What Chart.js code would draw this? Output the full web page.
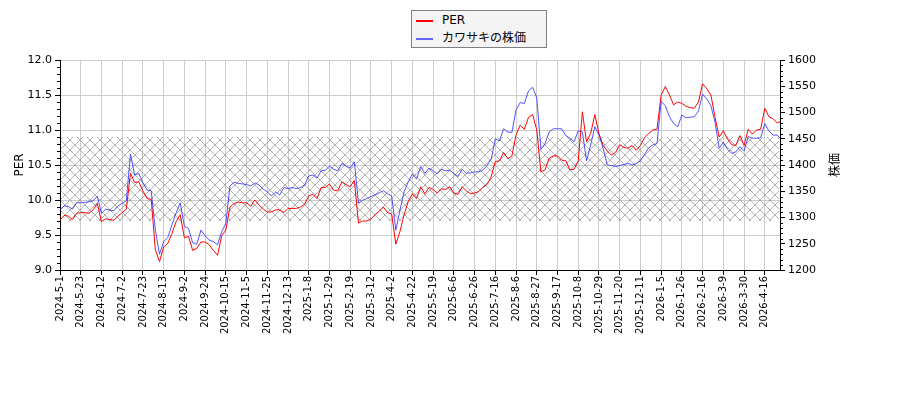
<!DOCTYPE html>
<html>
<head>
<meta charset="utf-8">
<script src="https://cdn.jsdelivr.net/npm/chart.js@4"></script>
<style>
  body { margin: 0; background: #fff; }
  #wrap { position: relative; width: 900px; height: 400px; }
  #legend {
    position: absolute; left: 411px; top: 10px; width: 136px; height: 38px;
    box-sizing: border-box; border: 1px solid #808080; background: #f4f4f4;
    font: 12px 'DejaVu Sans', 'Noto Sans CJK JP', sans-serif; color: #000;
    padding: 0 0 0 4px;
  }
  #legend .row { height: 18px; line-height: 18px; white-space: nowrap; }
  #legend .sw { display: inline-block; width: 17px; height: 2px; vertical-align: middle; margin-right: 9px; }
</style>
</head>
<body>
<div id="wrap">
  <canvas id="chart" width="900" height="400"></canvas>
  <div id="legend">
    <div class="row"><span class="sw" style="background:#ff0000"></span>PER</div>
    <div class="row"><span class="sw" style="background:#6464ff"></span>カワサキの株価</div>
  </div>
</div>
<script>
// one sample every 3 trading days, last sample is the last trading day
const STEP = 3;
const LAST_DAY = 521;
const TICK_EVERY = 15;

const tickLabels = [
  "2024-5-1", "2024-5-23", "2024-6-12", "2024-7-2", "2024-7-23", "2024-8-13", "2024-9-2",
  "2024-9-24", "2024-10-15", "2024-11-5", "2024-11-25", "2024-12-13", "2025-1-8", "2025-1-29",
  "2025-2-19", "2025-3-12", "2025-4-2", "2025-4-22", "2025-5-19", "2025-6-6", "2025-6-26",
  "2025-7-16", "2025-8-6", "2025-8-27", "2025-9-17", "2025-10-8", "2025-10-29", "2025-11-20",
  "2025-12-11", "2026-1-5", "2026-1-26", "2026-2-16", "2026-3-9", "2026-3-30", "2026-4-16"
];

const per = [
  9.71, 9.78, 9.77, 9.72, 9.81, 9.82, 9.82, 9.81, 9.86, 9.95,
  9.69, 9.73, 9.72, 9.71, 9.77, 9.82, 9.87, 10.38, 10.25, 10.26,
  10.13, 10.02, 10.01, 9.29, 9.12, 9.33, 9.38, 9.52, 9.69, 9.79,
  9.46, 9.48, 9.28, 9.31, 9.40, 9.40, 9.36, 9.28, 9.21, 9.49,
  9.57, 9.90, 9.95, 9.97, 9.96, 9.96, 9.91, 10.00, 9.93, 9.87,
  9.83, 9.83, 9.86, 9.86, 9.82, 9.88, 9.88, 9.88, 9.90, 9.94,
  10.06, 10.08, 10.02, 10.18, 10.18, 10.23, 10.14, 10.13, 10.26, 10.22,
  10.19, 10.28, 9.67, 9.70, 9.70, 9.73, 9.79, 9.84, 9.90, 9.82,
  9.80, 9.37, 9.55, 9.79, 9.98, 10.09, 10.02, 10.19, 10.09, 10.18,
  10.15, 10.10, 10.16, 10.15, 10.19, 10.10, 10.08, 10.19, 10.13, 10.09,
  10.10, 10.12, 10.18, 10.22, 10.33, 10.55, 10.56, 10.68, 10.59, 10.63,
  10.93, 11.07, 11.01, 11.18, 11.22, 11.00, 10.40, 10.43, 10.60, 10.63,
  10.63, 10.57, 10.56, 10.43, 10.44, 10.56, 11.26, 10.83, 10.95, 11.22,
  10.95, 10.78, 10.70, 10.64, 10.68, 10.79, 10.75, 10.74, 10.78, 10.71,
  10.78, 10.89, 10.95, 11.00, 11.01, 11.50, 11.62, 11.50, 11.36, 11.40,
  11.38, 11.34, 11.32, 11.31, 11.40, 11.66, 11.59, 11.50, 11.18, 10.90,
  10.99, 10.87, 10.79, 10.78, 10.92, 10.78, 11.01, 10.94, 11.00, 11.01,
  11.31, 11.19, 11.16, 11.10, 11.12
];

const price = [
  1315, 1322, 1321, 1316, 1328, 1328, 1329, 1330, 1332, 1341,
  1308, 1316, 1314, 1313, 1322, 1327, 1332, 1421, 1381, 1384,
  1366, 1352, 1351, 1276, 1230, 1254, 1262, 1286, 1309, 1328,
  1283, 1279, 1252, 1249, 1276, 1265, 1257, 1254, 1248, 1273,
  1289, 1360, 1367, 1365, 1364, 1363, 1360, 1366, 1362, 1354,
  1349, 1341, 1349, 1343, 1357, 1355, 1357, 1355, 1357, 1362,
  1379, 1381, 1375, 1389, 1390, 1398, 1392, 1389, 1403, 1398,
  1394, 1406, 1327, 1333, 1336, 1340, 1343, 1347, 1351, 1345,
  1341, 1276, 1314, 1349, 1368, 1383, 1373, 1397, 1384, 1394,
  1389, 1383, 1392, 1389, 1390, 1384, 1378, 1392, 1384, 1385,
  1387, 1387, 1390, 1399, 1411, 1450, 1446, 1469, 1463, 1462,
  1505, 1519, 1517, 1541, 1548, 1528, 1430, 1441, 1463, 1469,
  1469, 1469, 1456, 1451, 1444, 1465, 1463, 1408, 1438, 1473,
  1457, 1432, 1400, 1399, 1397, 1399, 1401, 1403, 1400, 1403,
  1408, 1420, 1433, 1438, 1441, 1521, 1513, 1492, 1479, 1473,
  1495, 1490, 1491, 1492, 1503, 1535, 1526, 1513, 1481, 1432,
  1443, 1430, 1422, 1425, 1435, 1427, 1454, 1451, 1451, 1452,
  1479, 1465, 1457, 1457, 1451
];

// shaded PER range
const perBand = [9.7, 10.9];

const days = per.map((_, i) => Math.min(i * STEP, LAST_DAY));

Chart.defaults.font.family = "'DejaVu Sans', 'Noto Sans CJK JP', sans-serif";
Chart.defaults.color = "#000";

const hatchTile = (() => {
  const c = document.createElement("canvas");
  c.width = 10; c.height = 10;
  const g = c.getContext("2d");
  g.strokeStyle = "#909090";
  g.lineWidth = 0.7;
  g.beginPath();
  g.moveTo(0, 0); g.lineTo(10, 10);
  g.moveTo(10, 0); g.lineTo(0, 10);
  g.stroke();
  return c;
})();

const bandPlugin = {
  id: "perBand",
  beforeDatasetsDraw(chart) {
    const { ctx, chartArea: a, scales } = chart;
    const top = scales.y.getPixelForValue(perBand[1]);
    const bottom = scales.y.getPixelForValue(perBand[0]);
    ctx.save();
    ctx.fillStyle = ctx.createPattern(hatchTile, "repeat");
    ctx.fillRect(a.left + 1, top, a.right - a.left - 2, bottom - top);
    ctx.restore();
  }
};

function drawMinorTicks(ctx, scale, step, x, dir) {
  const n = Math.round((scale.max - scale.min) / step);
  ctx.beginPath();
  for (let i = 0; i <= n; i++) {
    if (i % 5 === 0) continue;
    const py = Math.round(scale.getPixelForValue(scale.min + i * step)) + 0.5;
    ctx.moveTo(x, py);
    ctx.lineTo(x + dir * 3, py);
  }
  ctx.stroke();
}

const axisExtras = {
  id: "axisExtras",
  afterDraw(chart) {
    const { ctx, chartArea: a, scales } = chart;
    ctx.save();
    ctx.strokeStyle = "#000";
    ctx.lineWidth = 1;
    drawMinorTicks(ctx, scales.y, 0.1, a.left, -1);
    drawMinorTicks(ctx, scales.y2, 10, a.right, 1);

    ctx.fillStyle = "#000";
    ctx.font = "12px 'DejaVu Sans', 'Noto Sans CJK JP'";
    ctx.textAlign = "center";
    ctx.textBaseline = "middle";
    const midY = (a.top + a.bottom) / 2;
    [["PER", 20], ["株価", 836]].forEach(([text, x]) => {
      ctx.save();
      ctx.translate(x, midY);
      ctx.rotate(-Math.PI / 2);
      ctx.fillText(text, 0, 0);
      ctx.restore();
    });
    ctx.restore();
  }
};

new Chart(document.getElementById("chart"), {
  type: "line",
  data: {
    datasets: [
      {
        label: "PER",
        data: days.map((d, i) => ({ x: d, y: per[i] })),
        yAxisID: "y",
        borderColor: "#ff0000",
        borderWidth: 1,
        pointRadius: 0,
        tension: 0,
        order: 2
      },
      {
        label: "カワサキの株価",
        data: days.map((d, i) => ({ x: d, y: price[i] })),
        yAxisID: "y2",
        borderColor: "rgba(40, 40, 255, 0.8)",
        borderWidth: 1,
        pointRadius: 0,
        tension: 0,
        order: 1
      }
    ]
  },
  options: {
    responsive: false,
    animation: false,
    devicePixelRatio: 1,
    layout: { padding: { top: 60, left: 0, right: 0, bottom: 0 } },
    plugins: { legend: { display: false }, tooltip: { enabled: false } },
    scales: {
      x: {
        type: "linear",
        min: 0,
        max: LAST_DAY,
        afterBuildTicks: s => { s.ticks = tickLabels.map((_, i) => ({ value: i * TICK_EVERY })); },
        afterFit: s => { s.height = 130; },
        ticks: {
          autoSkip: false,
          maxRotation: 90,
          minRotation: 90,
          padding: 1,
          font: { size: 10 },
          callback: v => tickLabels[Math.round(v / TICK_EVERY)]
        },
        grid: { color: "#cccccc", tickColor: "#000", tickLength: 5 },
        border: { color: "#000" }
      },
      y: {
        position: "left",
        min: 9,
        max: 12,
        afterFit: s => { s.width = 60; },
        ticks: { stepSize: 0.5, font: { size: 11 }, callback: v => v.toFixed(1) },
        grid: { color: "#cccccc", tickColor: "#000", tickLength: 5 },
        border: { color: "#000" }
      },
      y2: {
        position: "right",
        min: 1200,
        max: 1600,
        afterFit: s => { s.width = 120; },
        ticks: { stepSize: 50, font: { size: 11 }, callback: v => String(v) },
        grid: { drawOnChartArea: false, tickColor: "#000", tickLength: 5 },
        border: { color: "#000" }
      }
    }
  },
  plugins: [bandPlugin, axisExtras]
});
</script>
</body>
</html>
